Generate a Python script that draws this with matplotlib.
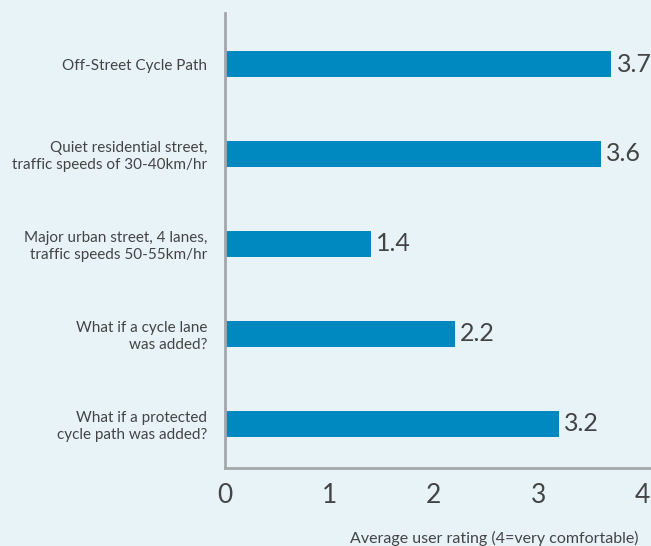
import matplotlib.pyplot as plt

categories = [
    "Off-Street Cycle Path",
    "Quiet residential street,\ntraffic speeds of 30-40km/hr",
    "Major urban street, 4 lanes,\ntraffic speeds 50-55km/hr",
    "What if a cycle lane\nwas added?",
    "What if a protected\ncycle path was added?",
]
ratings = [3.7, 3.6, 1.4, 2.2, 3.2]
x_ticks = [0, 1, 2, 3, 4]

bg = "#e8f3f8"
bar_color = "#0089c1"
text_color = "#444444"
axis_color = "#a3a7aa"

plt.rcParams["font.family"] = ["Lato", "DejaVu Sans"]

fig = plt.figure(figsize=(6.51, 5.46), dpi=100, facecolor=bg)
ax = fig.add_axes([225 / 651, 78 / 546, 1 - 225 / 651, 455 / 546])
ax.set_facecolor(bg)

pos = list(range(len(categories)))
ax.barh(pos, ratings, height=0.29, color=bar_color)
for p, v in zip(pos, ratings):
    ax.text(v + 0.05, p, f"{v:.1f}", va="center", ha="left",
            fontsize=18, fontweight="normal", color=text_color)

ax.set_ylim(4.49, -0.567)
ax.set_xlim(0, 4.08)
ax.set_yticks(pos)
ax.set_yticklabels(categories, fontsize=11, color=text_color)
ax.set_xticks(x_ticks)
ax.set_xticklabels([str(t) for t in x_ticks], fontsize=19,
                   fontweight="normal", color=text_color)
ax.tick_params(axis="both", length=0)
ax.tick_params(axis="x", pad=11)
ax.tick_params(axis="y", pad=13)

for s in ["top", "right"]:
    ax.spines[s].set_visible(False)
for s in ["left", "bottom"]:
    ax.spines[s].set_color(axis_color)
    ax.spines[s].set_linewidth(2)

fig.text(638 / 651, 8 / 546, "Average user rating (4=very comfortable)",
         ha="right", va="center", fontsize=11.5, color=text_color)

fig.savefig("out.png", dpi=100, facecolor=bg)
